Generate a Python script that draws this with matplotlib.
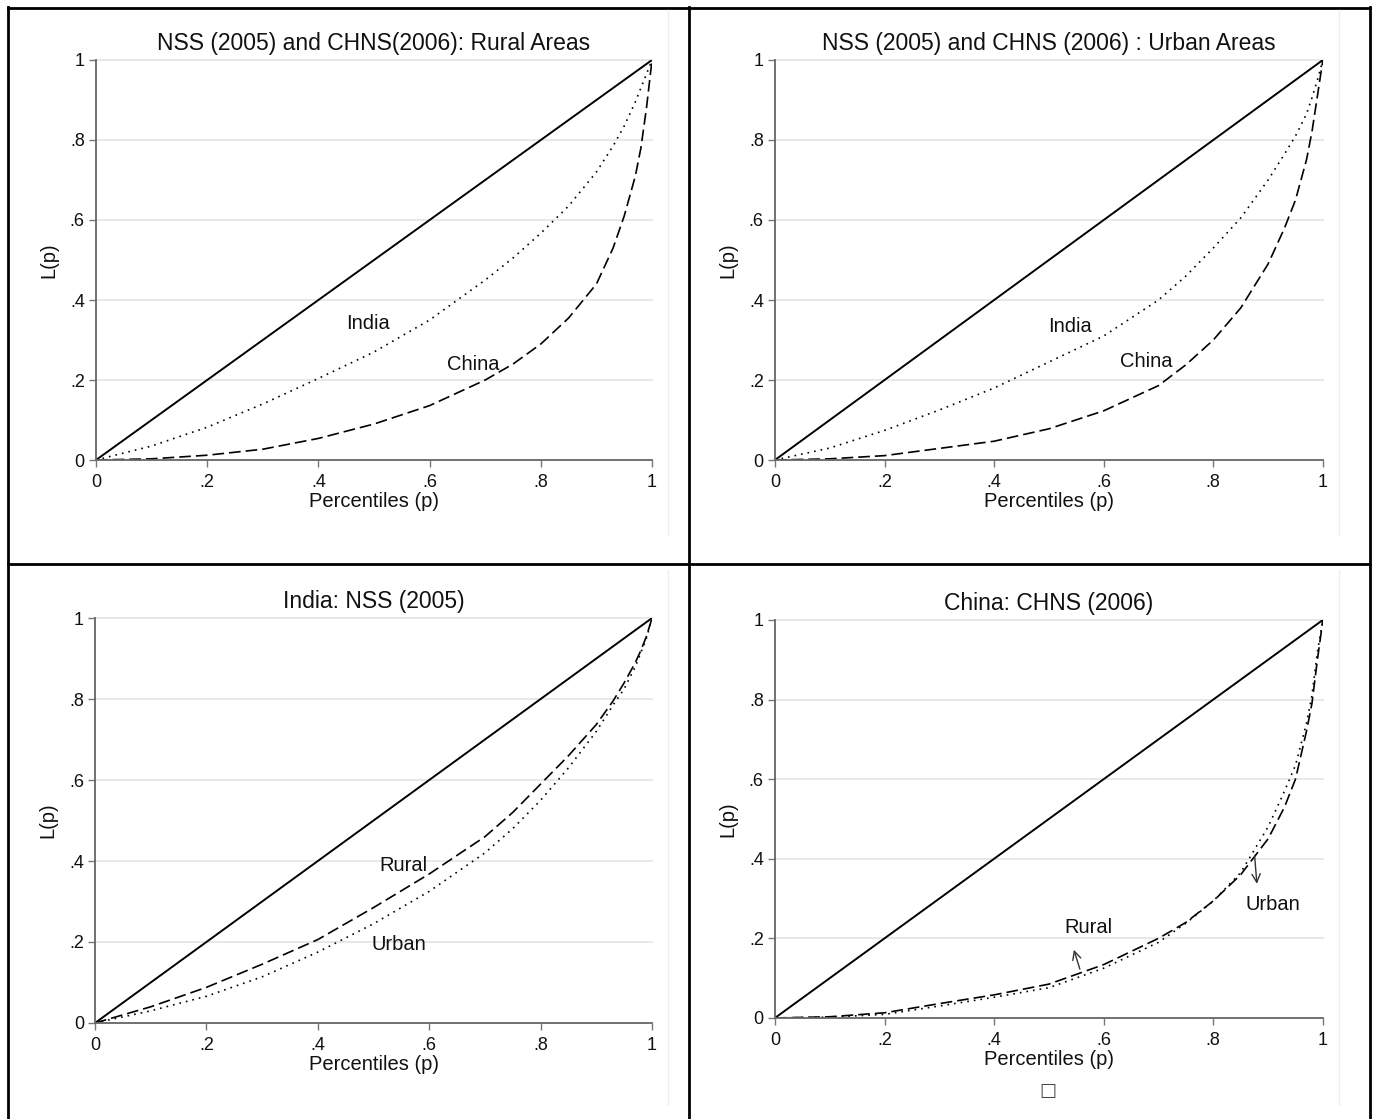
import matplotlib.pyplot as plt
from matplotlib.lines import Line2D

plt.rcParams.update({
    "figure.facecolor": "white",
    "font.family": ["Liberation Sans Narrow", "Liberation Sans", "DejaVu Sans"],
})

# Lorenz curves (p = population share, L = income share)
p_common = [0, 0.1, 0.2, 0.3, 0.4, 0.5, 0.6, 0.7, 0.75, 0.8, 0.85, 0.9, 0.93, 0.95, 0.97, 0.98, 0.99, 1.0]

# Rural areas
rural_india = [0, 0.035, 0.082, 0.14, 0.204, 0.27, 0.35, 0.45, 0.505, 0.567, 0.635, 0.72, 0.785, 0.835, 0.895, 0.93, 0.965, 1.0]
rural_china = [0, 0.003, 0.012, 0.027, 0.054, 0.09, 0.136, 0.2, 0.24, 0.29, 0.355, 0.44, 0.53, 0.61, 0.71, 0.78, 0.88, 1.0]

# Urban areas
urban_india = [0, 0.03, 0.074, 0.125, 0.18, 0.245, 0.31, 0.4, 0.46, 0.53, 0.605, 0.7, 0.765, 0.81, 0.865, 0.905, 0.95, 1.0]
urban_china = [0, 0.003, 0.011, 0.029, 0.047, 0.078, 0.123, 0.186, 0.238, 0.3, 0.38, 0.49, 0.58, 0.65, 0.75, 0.82, 0.91, 1.0]

# India, by area
india_rural = [0, 0.04, 0.088, 0.145, 0.206, 0.285, 0.368, 0.46, 0.52, 0.59, 0.66, 0.737, 0.795, 0.84, 0.89, 0.92, 0.955, 1.0]
india_urban = [0, 0.03, 0.066, 0.114, 0.175, 0.245, 0.325, 0.42, 0.48, 0.55, 0.63, 0.72, 0.785, 0.825, 0.88, 0.915, 0.95, 1.0]

# China, by area
china_rural = [0, 0.003, 0.013, 0.036, 0.058, 0.085, 0.134, 0.2, 0.24, 0.294, 0.36, 0.45, 0.53, 0.6, 0.72, 0.79, 0.9, 1.0]
china_urban = [0, 0.002, 0.009, 0.03, 0.052, 0.076, 0.125, 0.19, 0.238, 0.294, 0.365, 0.48, 0.57, 0.635, 0.74, 0.81, 0.92, 1.0]

ticks = [0, 0.2, 0.4, 0.6, 0.8, 1.0]
tick_labels = ["0", ".2", ".4", ".6", ".8", "1"]

panels = [
    dict(rect=[0.0698, 0.5889, 0.4044, 0.3575],
         title="NSS (2005) and CHNS(2006): Rural Areas",
         dotted=rural_india, dashed=rural_china,
         labels=[("India", 0.49, 0.342), ("China", 0.678, 0.24)]),
    dict(rect=[0.5636, 0.5889, 0.3985, 0.3575],
         title="NSS (2005) and CHNS (2006) : Urban Areas",
         dotted=urban_india, dashed=urban_china,
         labels=[("India", 0.538, 0.335), ("China", 0.677, 0.246)]),
    dict(rect=[0.0691, 0.0858, 0.4051, 0.3619],
         title="India: NSS (2005)",
         dotted=india_urban, dashed=india_rural,
         labels=[("Rural", 0.553, 0.389), ("Urban", 0.545, 0.195)]),
    dict(rect=[0.5636, 0.0903, 0.3985, 0.3557],
         title="China: CHNS (2006)",
         dotted=china_urban, dashed=china_rural,
         labels=[("Rural", 0.573, 0.227), ("Urban", 0.908, 0.285)]),
]

fig = plt.figure(figsize=(13.75, 11.19), dpi=100)

axes = []
for pn in panels:
    ax = fig.add_axes(pn["rect"])
    ax.set_xlim(0, 1)
    ax.set_ylim(0, 1)
    for y in ticks[1:]:
        ax.axhline(y, color="#e4e4e4", lw=1.2, zorder=0, clip_on=False)
    ax.plot([0, 1], [0, 1], color="black", lw=1.4, solid_capstyle="butt")
    ax.plot(p_common, pn["dotted"], color="black", lw=1.2, linestyle=(0, (1, 3)))
    ax.plot(p_common, pn["dashed"], color="black", lw=1.2, linestyle=(0, (7, 3)))
    for txt, x, y in pn["labels"]:
        ax.text(x, y, txt, ha="center", va="center", fontsize=14.5, color="#111111")
    ax.set_title(pn["title"], fontsize=16.5, pad=7, color="#111111")
    ax.set_xticks(ticks)
    ax.set_xticklabels(tick_labels)
    ax.set_yticks(ticks)
    ax.set_yticklabels(tick_labels)
    ax.tick_params(direction="out", length=5, width=1, color="#777777",
                   labelsize=13, pad=3, labelcolor="#111111")
    ax.tick_params(axis="x", pad=5)
    ax.set_xlabel("Percentiles (p)", fontsize=14.5, labelpad=1, color="#111111")
    ax.set_ylabel("L(p)", fontsize=14.5, labelpad=8, color="#111111")
    ax.spines["top"].set_visible(False)
    ax.spines["right"].set_visible(False)
    for side in ("left", "bottom"):
        ax.spines[side].set_color("#666666")
        ax.spines[side].set_linewidth(1.3)
    axes.append(ax)

# arrows pointing at the two China curves
ax = axes[3]
arrow_style = dict(arrowstyle="->,head_length=0.6,head_width=0.3", color="#333333", lw=1)
ax.annotate("", xy=(0.544, 0.178), xytext=(0.558, 0.116), arrowprops=arrow_style)
ax.annotate("", xy=(0.88, 0.33), xytext=(0.875, 0.414), arrowprops=arrow_style)

# missing-glyph box under the last panel
fig.text(1048 / 1375, 1 - 1091 / 1119, "\u25a1", ha="center", va="center",
         fontsize=13, family="DejaVu Sans", color="#444444")

# table borders
W, H = 1375, 1119


def px_line(x0, y0, x1, y1, lw=2, color="black"):
    fig.add_artist(Line2D([x0 / W, x1 / W], [1 - y0 / H, 1 - y1 / H],
                          color=color, lw=lw, transform=fig.transFigure))


px_line(8, 7.5, 1370, 7.5)
px_line(8, 7, 8, 1119)
px_line(689, 7, 689, 1119)
px_line(1370, 7, 1370, 1119)
px_line(8, 564, 1370, 564)

# faint graph-region edges
for x in (668, 1339):
    px_line(x, 10, x, 535, lw=1, color="#eeeeee")
    px_line(x, 570, x, 1105, lw=1, color="#eeeeee")

fig.savefig("out.png", dpi=100)
